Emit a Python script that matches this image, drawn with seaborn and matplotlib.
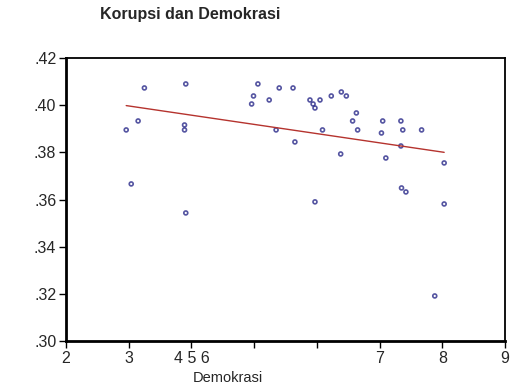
import numpy as np
import pandas as pd
import matplotlib
matplotlib.use('Agg')
import matplotlib.pyplot as plt
import seaborn as sns

# data (Demokrasi vs Korupsi)
demokrasi = [2.96, 3.15, 3.25, 3.04, 3.91, 3.89, 3.89, 3.91,
             4.96, 4.99, 5.06, 5.24, 5.40, 5.35, 5.62, 5.65,
             5.89, 5.94, 5.97, 6.05, 6.09, 6.23, 5.97, 6.39,
             6.47, 6.38, 6.63, 6.57, 6.65, 7.05, 7.03, 7.10,
             7.34, 7.37, 7.34, 7.35, 7.42, 7.67, 8.03, 7.88, 8.03]
korupsi = [.3895, .3933, .4073, .3666, .4090, .3916, .3895, .3543,
           .4005, .4039, .4090, .4022, .4073, .3895, .4073, .3844,
           .4022, .4005, .3988, .4022, .3895, .4039, .3590, .4056,
           .4039, .3793, .3967, .3933, .3895, .3933, .3882, .3776,
           .3933, .3895, .3827, .3649, .3632, .3895, .3755, .3191, .3581]

x_ticks = [2, 3, 4, 5, 6, 7, 8, 9]
x_ticklabels = ['2', '3', '4 5 6', '', '', '7', '8', '9']
y_ticks = [.30, .32, .34, .36, .38, .40, .42]
y_ticklabels = ['.30', '.32', '.34', '.36', '.38', '.40', '.42']

df = pd.DataFrame({'Demokrasi': demokrasi, 'Korupsi': korupsi})

sns.set_style('white')
plt.rcParams['font.family'] = ['Liberation Sans', 'DejaVu Sans']

fig = plt.figure(figsize=(5.28, 3.91), dpi=100)
ax = fig.add_axes([66/528, 50/391, 439/528, 283/391])

sns.regplot(data=df, x='Demokrasi', y='Korupsi', ci=None, ax=ax,
            scatter_kws={'s': 8, 'facecolors': 'none', 'edgecolors': '#2a2a8a',
                         'linewidths': 1.2, 'marker': 'o'},
            line_kws={'color': '#b5332e', 'linewidth': 1.0})

ax.set_xlim(2, 9)
ax.set_ylim(.30, .42)
ax.set_xticks(x_ticks)
ax.set_xticklabels(x_ticklabels, fontsize=11.5)
ax.set_yticks(y_ticks)
ax.set_yticklabels(y_ticklabels, fontsize=11.5)
ax.tick_params(direction='out', length=5, width=1, color='black', pad=2,
               bottom=True, left=True)
for s in ax.spines.values():
    s.set_color('black')
    s.set_linewidth(1.3)
ax.spines['left'].set_linewidth(2)
ax.spines['bottom'].set_linewidth(2)

ax.set_ylabel('')
ax.set_xlabel('Demokrasi', fontsize=10.5, labelpad=1)
ax.xaxis.set_label_coords(0.369, -0.105)

fig.text(100/528, 1 - 15/391, 'Korupsi dan Demokrasi', fontsize=11.5,
         fontweight='bold', ha='left', va='center')

fig.savefig('out.png', dpi=100)
